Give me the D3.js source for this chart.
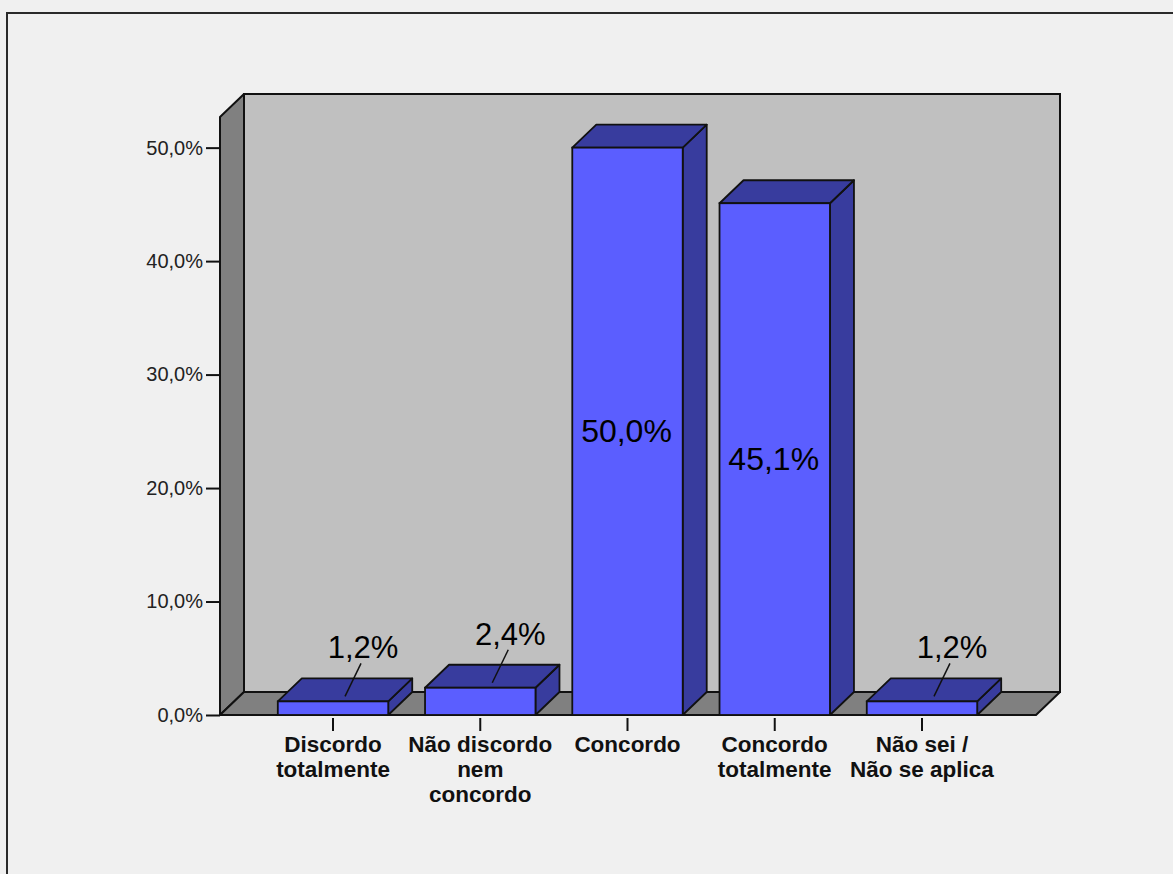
<!DOCTYPE html>
<html>
<head>
<meta charset="utf-8">
<script src="https://cdn.jsdelivr.net/npm/d3@7"></script>
<style>
  html, body { margin: 0; padding: 0; background: #f0f0f0; }
  svg { display: block; }
  text { font-family: "Liberation Sans", Arial, sans-serif; }
</style>
</head>
<body>
<svg id="chart" width="1173" height="874"></svg>
<script>
// ---- data ----
const categories = [
  ["Discordo", "totalmente"],
  ["Não discordo", "nem", "concordo"],
  ["Concordo"],
  ["Concordo", "totalmente"],
  ["Não sei /", "Não se aplica"]
];
const values = [1.2, 2.4, 50.0, 45.1, 1.2];
const yTicks = [0, 10, 20, 30, 40, 50];

// ---- layout ----
const svg = d3.select("#chart");
const W = 1173, H = 874;
const depthX = 24, depthY = 23;
const floorY = 715;
const leftX = 220, rightX = 1036;
const yMax = 52.7;

const fmt = v => d3.format(".1f")(v).replace(".", ",") + "%";

const y = d3.scaleLinear().domain([0, yMax]).range([floorY, 117]);
const x = d3.scaleBand()
  .domain(d3.range(values.length))
  .range([259.4, 995.6])
  .paddingInner(0.25)
  .paddingOuter(0.125);

// background + frame
svg.append("rect").attr("width", W).attr("height", H).attr("fill", "#f0f0f0");
svg.append("rect").attr("x", 7).attr("y", 13).attr("width", 1300).attr("height", 1000)
  .attr("fill", "none").attr("stroke", "#2a2a2a").attr("stroke-width", 2);

const topY = y(yMax);
const line = d3.line();

// back wall
svg.append("path")
  .attr("d", line([[leftX + depthX, topY - depthY], [rightX + depthX, topY - depthY],
                   [rightX + depthX, floorY - depthY], [leftX + depthX, floorY - depthY]]) + "Z")
  .attr("fill", "#c0c0c0").attr("stroke", "#111").attr("stroke-width", 2);
// left wall
svg.append("path")
  .attr("d", line([[leftX, floorY], [leftX, topY], [leftX + depthX, topY - depthY],
                   [leftX + depthX, floorY - depthY]]) + "Z")
  .attr("fill", "#808080").attr("stroke", "#111").attr("stroke-width", 2).attr("stroke-linejoin", "round");
// floor
svg.append("path")
  .attr("d", line([[leftX, floorY], [leftX + depthX, floorY - depthY],
                   [rightX + depthX, floorY - depthY], [rightX, floorY]]) + "Z")
  .attr("fill", "#808080").attr("stroke", "#111").attr("stroke-width", 2).attr("stroke-linejoin", "round");

// y axis
const yAxis = d3.axisLeft(y).tickValues(yTicks).tickFormat(fmt).tickSize(14).tickPadding(3);
const gy = svg.append("g").attr("transform", `translate(${leftX},0)`).call(yAxis);
gy.select(".domain").remove();
gy.selectAll(".tick line").attr("stroke", "#111").attr("stroke-width", 2);
gy.selectAll(".tick text").attr("fill", "#222").style("font-size", "20px")
  .style("font-family", '"Liberation Sans", Arial, sans-serif');

// bars
const bw = x.bandwidth();
const gb = svg.append("g");
values.forEach((v, i) => {
  const x0 = x(i), yt = y(v);
  const g = gb.append("g");
  // side
  g.append("path")
    .attr("d", line([[x0 + bw, yt], [x0 + bw + depthX, yt - depthY],
                     [x0 + bw + depthX, floorY - depthY], [x0 + bw, floorY]]) + "Z")
    .attr("fill", "#383c9e").attr("stroke", "#111").attr("stroke-width", 1.8).attr("stroke-linejoin", "round");
  // top
  g.append("path")
    .attr("d", line([[x0, yt], [x0 + depthX, yt - depthY],
                     [x0 + bw + depthX, yt - depthY], [x0 + bw, yt]]) + "Z")
    .attr("fill", "#383c9e").attr("stroke", "#111").attr("stroke-width", 1.8).attr("stroke-linejoin", "round");
  // front
  g.append("rect")
    .attr("x", x0).attr("y", yt).attr("width", bw).attr("height", floorY - yt)
    .attr("fill", "#5b5eff").attr("stroke", "#111").attr("stroke-width", 1.8);
});

// value labels
values.forEach((v, i) => {
  const cx = x(i) + bw / 2, yt = y(v);
  if (floorY - yt > 60) {
    svg.append("text")
      .attr("x", cx - 1).attr("y", (yt + floorY) / 2 + 11)
      .attr("text-anchor", "middle").style("font-size", "32px").attr("fill", "#000")
      .text(fmt(v));
  } else {
    const lx = cx + 30, ly = yt - 43;
    svg.append("line")
      .attr("x1", lx - 2).attr("y1", ly + 5)
      .attr("x2", cx + 12).attr("y2", yt - 5)
      .attr("stroke", "#111").attr("stroke-width", 1.5);
    svg.append("text")
      .attr("x", lx).attr("y", ly)
      .attr("text-anchor", "middle").style("font-size", "31px").attr("fill", "#000")
      .text(fmt(v));
  }
});

// category ticks and labels
categories.forEach((lines, i) => {
  const cx = x(i) + bw / 2;
  svg.append("line").attr("x1", cx).attr("x2", cx).attr("y1", floorY + 3).attr("y2", floorY + 16)
    .attr("stroke", "#111").attr("stroke-width", 2);
  const t = svg.append("text").attr("text-anchor", "middle")
    .style("font-size", "22.5px").style("font-weight", "bold").attr("fill", "#111");
  lines.forEach((s, j) => {
    t.append("tspan").attr("x", cx).attr("y", 752 + j * 25).text(s);
  });
});
</script>
</body>
</html>
